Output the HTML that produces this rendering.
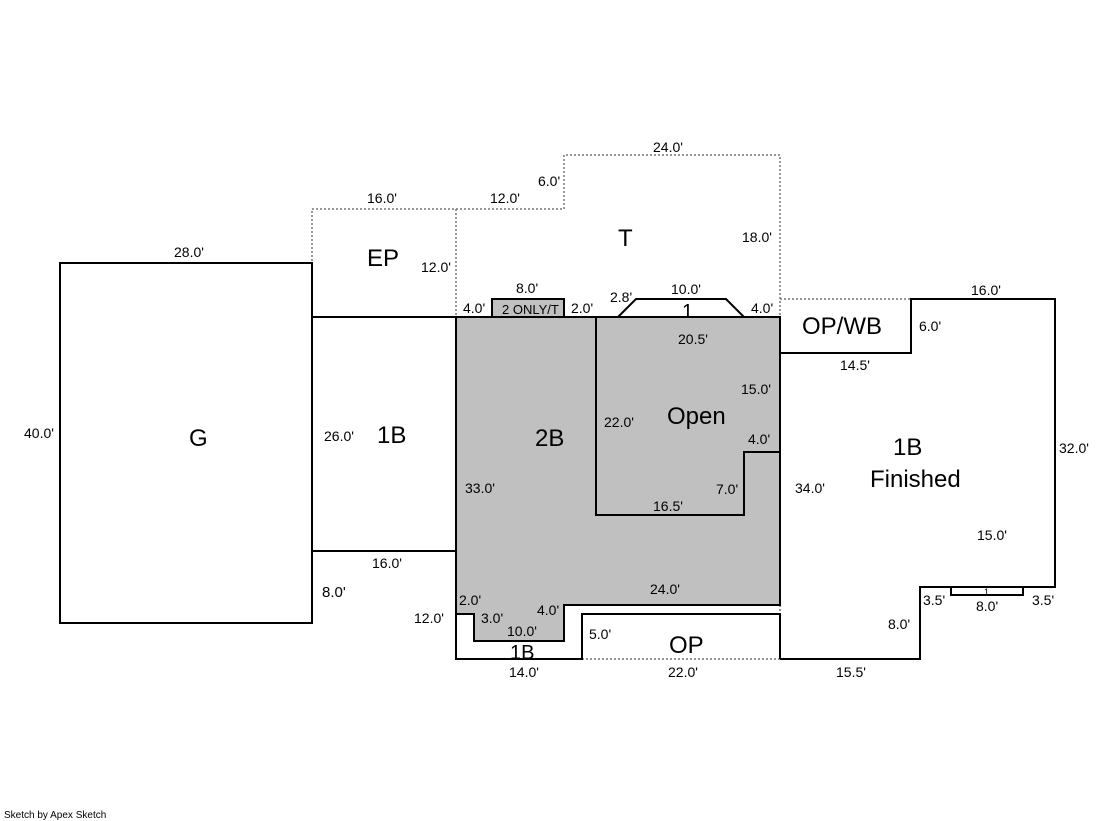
<!DOCTYPE html>
<html><head><meta charset="utf-8"><style>
body{margin:0;background:#fff;}
svg{display:block;font-family:"Liberation Sans",Arial,sans-serif;}
.d{font-size:14px;fill:#000;}
.l{font-size:24px;fill:#000;}
</style></head><body>
<svg width="1119" height="821" viewBox="0 0 1119 821" xmlns="http://www.w3.org/2000/svg">
<g fill="none" stroke="#777" stroke-width="1.5" stroke-dasharray="2,2">
<polyline points="312,317 312,209 456,209 456,317"/>
<polyline points="456,209 564,209 564,155 780,155 780,317"/>
<polyline points="780,299 911,299"/>
<line x1="582" y1="659" x2="780" y2="659"/>
<line x1="780" y1="605" x2="780" y2="614"/>
</g>
<!-- 2B gray -->
<polygon points="456,317 780,317 780,605 564,605 564,641 474,641 474,614 456,614" fill="#c0c0c0" stroke="#000" stroke-width="2"/>
<polyline points="596,317 596,515 744,515 744,452 780,452" fill="none" stroke="#000" stroke-width="2"/>
<rect x="492" y="299" width="72" height="18" fill="#c0c0c0" stroke="#000" stroke-width="2"/>
<g fill="none" stroke="#000" stroke-width="2">
<rect x="60" y="263" width="252" height="360"/>
<line x1="312" y1="317" x2="456" y2="317"/>
<line x1="312" y1="551" x2="456" y2="551"/>
<polyline points="618,317 636,299 726,299 744,317"/>
<polyline points="780,353 911,353 911,299 1055,299 1055,587 1023,587 951,587 920,587 920,659 780,659"/>
<rect x="951" y="587" width="72" height="8"/>
<polyline points="456,614 456,659 582,659 582,614 780,614 780,659"/>
</g>
<g class="d">
<text x="174" y="257">28.0'</text>
<text x="24" y="438">40.0'</text>
<text x="367" y="203">16.0'</text>
<text x="421" y="272">12.0'</text>
<text x="324" y="441">26.0'</text>
<text x="372" y="568">16.0'</text>
<text x="322" y="597" style="font-size:15px">8.0'</text>
<text x="490" y="203">12.0'</text>
<text x="538" y="186">6.0'</text>
<text x="653" y="152">24.0'</text>
<text x="742" y="242">18.0'</text>
<text x="463" y="313">4.0'</text>
<text x="516" y="293">8.0'</text>
<text x="571" y="313">2.0'</text>
<text x="610" y="302">2.8'</text>
<text x="671" y="294">10.0'</text>
<text x="751" y="313">4.0'</text>
<text x="678" y="344">20.5'</text>
<text x="741" y="394">15.0'</text>
<text x="604" y="427">22.0'</text>
<text x="748" y="444">4.0'</text>
<text x="716" y="494">7.0'</text>
<text x="653" y="511">16.5'</text>
<text x="465" y="493">33.0'</text>
<text x="650" y="594">24.0'</text>
<text x="459" y="605">2.0'</text>
<text x="481" y="623">3.0'</text>
<text x="537" y="615">4.0'</text>
<text x="507" y="636">10.0'</text>
<text x="414" y="623">12.0'</text>
<text x="589" y="639">5.0'</text>
<text x="509" y="677">14.0'</text>
<text x="668" y="677">22.0'</text>
<text x="836" y="677">15.5'</text>
<text x="888" y="629">8.0'</text>
<text x="923" y="605">3.5'</text>
<text x="976" y="611">8.0'</text>
<text x="1032" y="605">3.5'</text>
<text x="977" y="540">15.0'</text>
<text x="1059" y="453">32.0'</text>
<text x="971" y="295">16.0'</text>
<text x="919" y="331">6.0'</text>
<text x="840" y="370">14.5'</text>
<text x="795" y="493">34.0'</text>
<text x="502" y="314" style="font-size:13px">2 ONLY/T</text>
<text x="984" y="595" style="font-size:9px">1</text>
</g>
<g class="l">
<text x="189" y="446">G</text>
<text x="367" y="266">EP</text>
<text x="618" y="246">T</text>
<text x="377" y="443">1B</text>
<text x="535" y="446">2B</text>
<text x="667" y="424">Open</text>
<text x="682" y="318" style="font-size:20px">1</text>
<text x="802" y="334">OP/WB</text>
<text x="893" y="455">1B</text>
<text x="870" y="487">Finished</text>
<text x="669" y="653">OP</text>
<text x="510" y="659" style="font-size:20px">1B</text>
</g>
<text x="4" y="818" style="font-size:10px">Sketch by Apex Sketch</text>
</svg>
</body></html>
